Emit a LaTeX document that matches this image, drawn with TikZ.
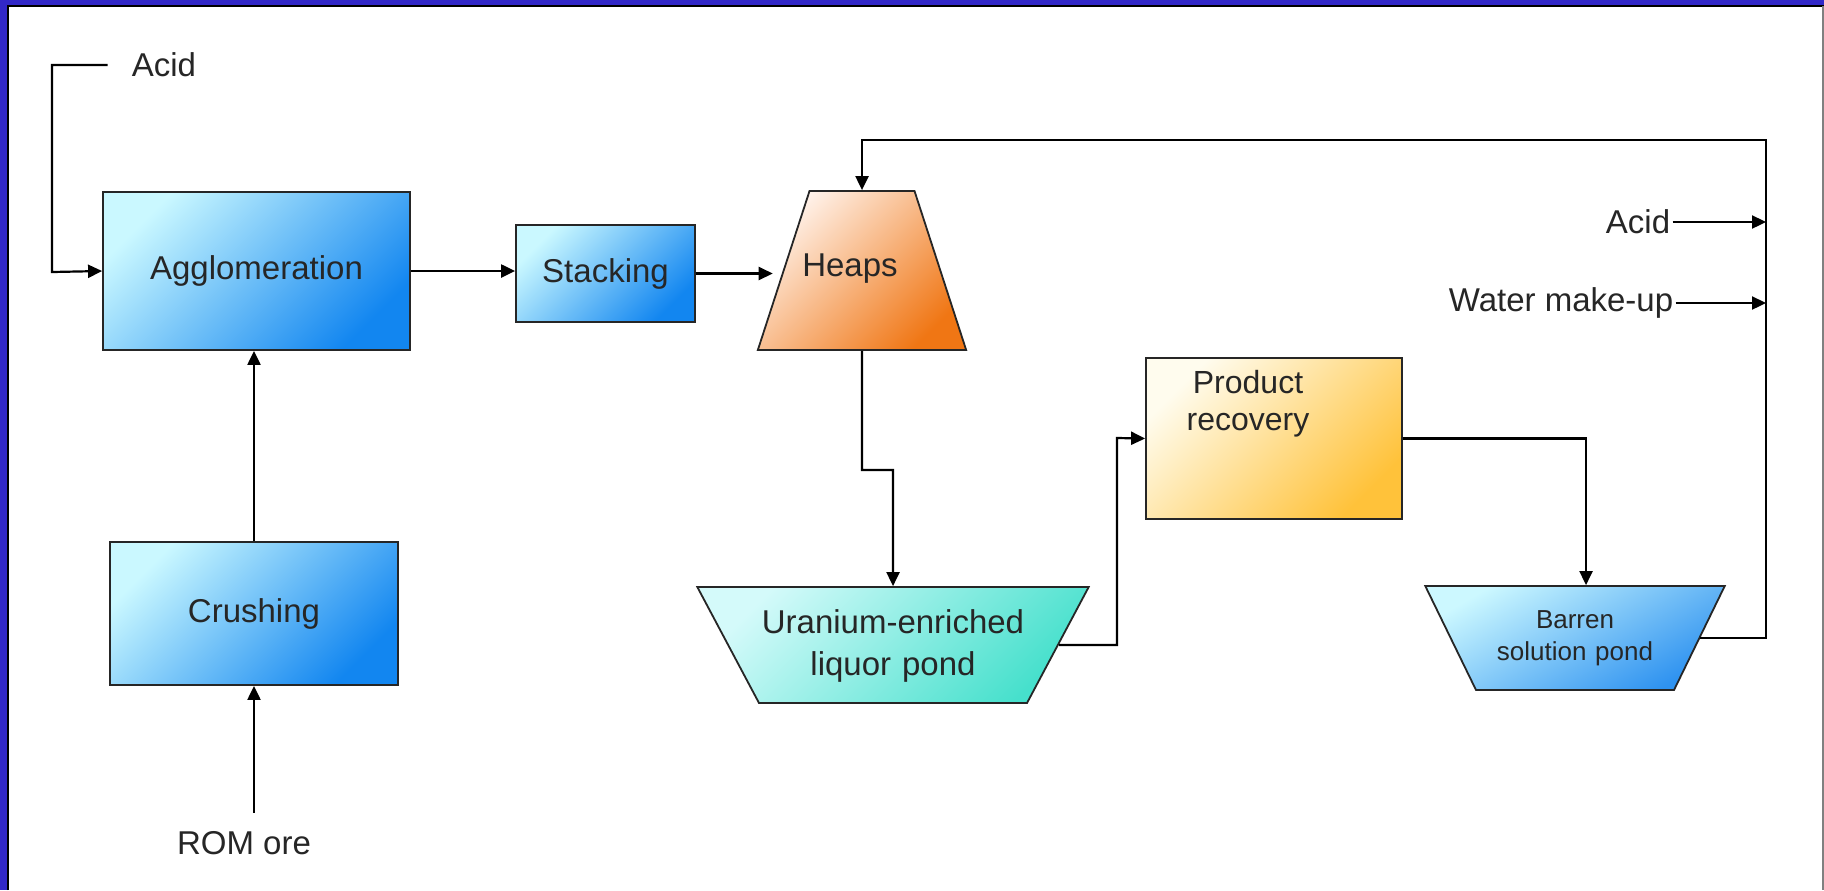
\documentclass[tikz,border=0pt]{standalone}
\usepackage{fontspec}
\setmainfont{Liberation Sans}
\usetikzlibrary{shapes.geometric,arrows.meta}

\definecolor{frameblue}{HTML}{3228C8}
\definecolor{blueA}{HTML}{CAF8FF}
\definecolor{blueB}{HTML}{1286F0}
\definecolor{orangeA}{HTML}{FFF2EA}
\definecolor{orangeB}{HTML}{F07614}
\definecolor{aquaA}{HTML}{D4FAFA}
\definecolor{aquaB}{HTML}{46E0CC}
\definecolor{goldA}{HTML}{FFFCEE}
\definecolor{goldB}{HTML}{FFC23A}
\definecolor{pondA}{HTML}{CCF8FF}
\definecolor{pondB}{HTML}{2E92F0}

\tikzset{
  flow/.style={line width=1.1pt, -{Triangle[length=7pt,width=6.5pt]}},
  unit/.style={draw=black!85, line width=0.9pt, shading angle=45},
  bluebox/.style={unit, top color=blueA, bottom color=blueB, shading angle=45},
  pond/.style={unit, trapezium, inner sep=0pt, align=center}
}

\begin{document}
\begin{tikzpicture}[x=0.5pt,y=-0.5pt,
    every node/.style={font=\fontsize{16.5}{21}\selectfont, text=black!85}]

        \useasboundingbox (0,0) rectangle (1824,890);
        \fill[white] (0,0) rectangle (1824,890);
        \fill[frameblue] (0,0) rectangle (1824,5);
        \fill[frameblue] (0,0) rectangle (7,890);
        \draw[black, line width=0.8pt] (7.8,890) -- (7.8,5.8) -- (1824,5.8);
        \draw[black!50, line width=0.6pt] (1823,5.8) -- (1823,890);

        % process units
        \node[bluebox, minimum width=153.5pt, minimum height=79pt] (agglo) at (256.5,271) {Agglomeration};
        \node[bluebox, minimum width=89.5pt, minimum height=48.5pt] (stack) at (605.5,273.5) {Stacking};
        \node[bluebox, minimum width=144pt, minimum height=71.5pt] (crush) at (254,613.5) {Crushing};
        \node[unit, top color=goldA, bottom color=goldB, shading angle=45,
              minimum width=128pt, minimum height=80.5pt,
              label={[align=center, font=\fontsize{16}{18.5}\selectfont, xshift=-13pt, yshift=17.5pt]center:{Product\\recovery}}] (prod) at (1274,438.5) {};

        % heaps and ponds
        \node[pond, top color=orangeA, bottom color=orangeB, shading angle=45,
              trapezium angle=72, text width=52.5pt, text height=45.5pt, text depth=34pt,
              label={[xshift=-6pt, yshift=1pt]center:Heaps}] (heaps) at (862,270.5) {};
        \node[pond, top color=aquaA, bottom color=aquaB, shading angle=45,
              trapezium angle=118, text width=134pt, text height=23pt, text depth=35pt] (upond) at (893,645) {Uranium-enriched\\liquor pond};
        \node[pond, top color=pondA, bottom color=pondB, shading angle=30,
              font=\fontsize{13}{16}\selectfont,
              trapezium angle=116, text width=99pt, text height=21pt, text depth=31pt] (barren) at (1575,638) {Barren\\solution pond};

        % feeds
        \node[inner sep=0pt] (acidL) at (164,65) {Acid};
        \node[inner sep=1pt] (acidR) at (1638,222) {Acid};
        \node[inner sep=1pt] (water) at (1561,303) {Water make-up};
        \node[inner sep=0pt] (rom) at (244,843) {ROM ore};

        \coordinate (lbus) at (52,272);
        \coordinate (rtop) at (1766,140);
        \coordinate (hjog) at (893,470);
        \coordinate (ujog) at (1117,438);

        % flows
        \draw[flow] ([xshift=-12pt]acidL.west) -| (lbus) -- (agglo.west);
        \draw[flow] (agglo.east) -- (agglo.east -| stack.west);
        \draw[flow, shorten >=5pt] (stack.east) -- (stack.east -| heaps.west);
        \draw[flow] (crush.north) -- (crush.north |- agglo.south);
        \draw[flow] ([yshift=9pt]rom.north -| crush.south) -- (crush.south);
        \draw[flow] (heaps.south) |- (hjog) -- (upond.north);
        \draw[flow] (upond.east) -| (ujog) -- (prod.west);
        \draw[flow] (prod.east) -| ([xshift=5.5pt]barren.north);
        \draw[flow] (barren.east) -| (rtop) -| (heaps.north);
        \draw[flow] (acidR.east) -- (acidR.east -| rtop);
        \draw[flow] (water.east) -- (water.east -| rtop);

\end{tikzpicture}
\end{document}
